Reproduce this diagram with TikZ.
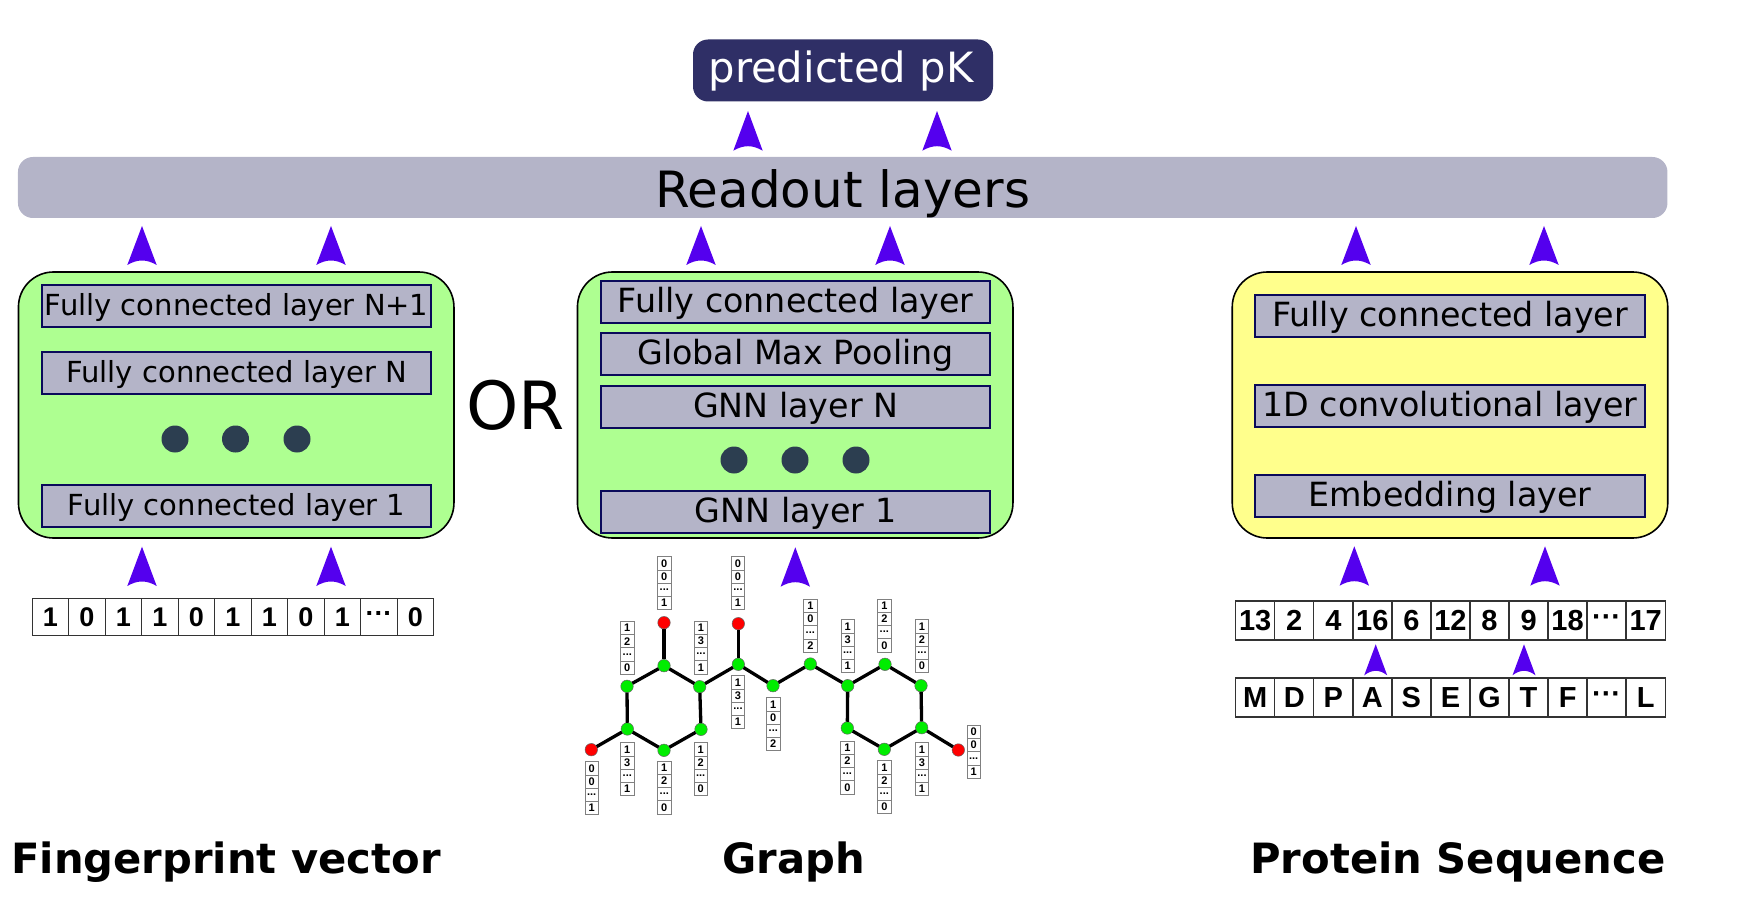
\documentclass[tikz,border=0pt]{standalone}
\usepackage{fontspec}
\setmainfont{DejaVu Sans}
\newfontfamily\cellfont{Liberation Sans}[BoldFont={Liberation Sans Bold}]
\usetikzlibrary{calc}
\definecolor{ArrowBlue}{RGB}{84,0,238}
\definecolor{BarGray}{RGB}{180,180,200}
\definecolor{BoxGreen}{RGB}{174,255,145}
\definecolor{BoxYellow}{RGB}{255,255,140}
\definecolor{DeepNavy}{RGB}{47,47,102}
\definecolor{LineNavy}{RGB}{10,10,90}
\definecolor{DotSlate}{RGB}{44,62,80}
\newcommand{\pxfont}[1]{\fontsize{#1}{#1}\selectfont}
\newcommand{\cdotsmark}{\raisebox{-4pt}{···}}
\tikzset{
  outerbox/.style = {draw = black, line width = 1.6pt, rounded corners = 35pt, minimum width = 435.5pt, minimum height = 266pt, outer sep = 0pt},
  layerbox/.style = {draw = LineNavy, fill = BarGray, line width = 2pt, minimum width = 389.5pt, minimum height = 42pt, inner sep = 0pt, outer sep = 0pt},
  smalltext/.style = {font = \pxfont{29}, text height = 26.5pt, text depth = 6.8pt},
  bigtext/.style = {font = \pxfont{33.3}, text height = 29.7pt, text depth = 7.8pt},
  waitdot/.style = {circle, fill = DotSlate, minimum size = 27pt, inner sep = 0pt},
  title/.style = {anchor = base, font = \pxfont{41.7}\bfseries},
  cell/.style = {draw = black!80, line width = 1.4pt, fill = white, inner sep = 0pt, outer sep = 0pt, font = \cellfont\bfseries\pxfont{29}},
  fpcell/.style = {cell, minimum width = 36.5pt, minimum height = 36.6pt, font = \cellfont\bfseries\pxfont{27}},
  seqcell/.style = {cell, minimum width = 39.05pt, minimum height = 39pt},
  bitcell/.style = {draw = black!50, line width = 0.7pt, fill = white, minimum width = 13.5pt, minimum height = 13.25pt, inner sep = 0pt, outer sep = 0pt, font = \cellfont\bfseries\pxfont{11}},
  atom/.style = {circle, draw = black!60, line width = 0.5pt, minimum size = 12.5pt, inner sep = 0pt, outer sep = 0pt},
  carbon/.style = {atom, fill = green!93!black},
  oxygen/.style = {atom, fill = red},
  bond/.style = {line width = 3.3pt},
  fatarrow/.style = {fill = ArrowBlue, to path = {(\tikztotarget) -- ($(\tikztostart)+(#1,0)$) .. controls ($(\tikztostart)+(0.3*#1,-6)$) and ($(\tikztostart)+(-0.3*#1,-6)$) .. ($(\tikztostart)+(-#1,0)$) -- cycle}},
  fatarrow/.default = 14.7
}
\newcommand{\bitstack}[6]{
  \node [bitcell] (#1-1) at (#2, #3+6.6) {#4};
  \node [bitcell] (#1-2) at (#2, #3+19.9) {#5};
  \node [bitcell] (#1-3) at (#2, #3+33.1) {...};
  \node [bitcell] (#1-4) at (#2, #3+46.4) {#6};
}
\begin{document}
\begin{tikzpicture}[x = 1pt, y = -1pt]
  \useasboundingbox (0, 0) rectangle (1746, 912);
  \node [fill = DeepNavy, text = white, rounded corners = 15pt, minimum width = 300pt, minimum height = 62pt, inner sep = 0pt, font = \pxfont{41.7}] (predicted) at (843, 70.5) {\hspace*{-4pt}predicted pK};
  \node [fill = BarGray, rounded corners = 15pt, minimum width = 1649.5pt, minimum height = 61pt, inner sep = 0pt, text height = 50.5pt, text depth = 10.4pt, font = \pxfont{50}] (readout) at (842.7, 187.5) {Readout layers};
  \node [outerbox, fill = BoxGreen] (fpbox) at (236.2, 405) {};
  \node [outerbox, fill = BoxGreen] (gnnbox) at (795.2, 405) {};
  \node [outerbox, fill = BoxYellow] (cnnbox) at (1450, 405) {};
  \node [layerbox, smalltext] (fcplus) at (236.7, 306) {Fully connected layer N+1};
  \node [layerbox, smalltext] (fcn) at (236.7, 372.5) {Fully connected layer N};
  \node [layerbox, smalltext] (fcone) at (236.7, 506) {Fully connected layer 1};
  \node [layerbox, bigtext] (fcgnn) at (795.7, 302) {Fully connected layer};
  \node [layerbox, bigtext] (pool) at (795.7, 354) {Global Max Pooling};
  \node [layerbox, bigtext] (gnnn) at (795.7, 407) {GNN layer N};
  \node [layerbox, bigtext] (gnnone) at (795.7, 512) {GNN layer 1};
  \node [layerbox, bigtext] (fccnn) at (1450, 316) {Fully connected layer};
  \node [layerbox, bigtext] (conv) at (1450, 405.5) {1D convolutional layer};
  \node [layerbox, bigtext] (embed) at (1450, 496) {Embedding layer};
  \foreach \n/\x in {a/175, b/235.5, c/297}
  \node [waitdot] (fpdot\n) at (\x, 439) {};
  \foreach \n/\x in {a/734, b/795, c/856}
  \node [waitdot] (gnndot\n) at (\x, 460) {};
  \node [font = \pxfont{66.5}] (orlabel) at (515.5, 405) {OR};
  \foreach \i/\t in {0/1, 1/0, 2/1, 3/1, 4/0, 5/1, 6/1, 7/0, 8/1, 9/\cdotsmark, 10/0}
  \node [fpcell] (fp\i) at (50.5+36.5*\i, 617) {\t};
  \foreach \i/\t in {0/13, 1/2, 2/4, 3/16, 4/6, 5/12, 6/8, 7/9, 8/18, 9/\cdotsmark, 10/17}
  \node [seqcell] (num\i) at (1255.2+39.05*\i, 620.3) {\t};
  \foreach \i/\t in {0/M, 1/D, 2/P, 3/A, 4/S, 5/E, 6/G, 7/T, 8/F, 9/\cdotsmark, 10/L}
  \node [seqcell] (res\i) at (1255.2+39.05*\i, 697.5) {\t};
  \foreach \n/\x/\y in {a/627/686.3, b/664/665.7, c/699.7/686.7, d/701/729.3, e/664/750.3, f/627.3/729, g/738.3/664.3, h/773/685.7, i/810.3/664, j/847.7/685.7, k/885/664.3, l/921/685.7, m/921.7/727.7, n/884.3/749.3, o/847.3/728}
  \node [carbon] (\n) at (\x, \y) {};
  \foreach \n/\x/\y in {p/664/622.7, q/591.3/749.7, r/738.3/623.7, s/958.3/750}
  \node [oxygen] (\n) at (\x, \y) {};
  \foreach \u/\v in {a/b, b/c, c/d, d/e, e/f, f/a, b/p, f/q, c/g, g/r, g/h, h/i, i/j, j/k, k/l, l/m, m/n, n/o, o/j, m/s}
  \draw [bond] (\u) -- (\v);
  \bitstack{sa}{664.3}{556.7}{0}{0}{1}
  \bitstack{sb}{738}{556.7}{0}{0}{1}
  \bitstack{sc}{627.3}{621.3}{1}{2}{0}
  \bitstack{sd}{701}{621}{1}{3}{1}
  \bitstack{se}{810.3}{599.3}{1}{0}{2}
  \bitstack{sf}{847.7}{619.7}{1}{3}{1}
  \bitstack{sg}{884.3}{599}{1}{2}{0}
  \bitstack{sh}{922}{619.7}{1}{2}{0}
  \bitstack{si}{738}{675.7}{1}{3}{1}
  \bitstack{sj}{773.3}{697.7}{1}{0}{2}
  \bitstack{sk}{973.7}{725.3}{0}{0}{1}
  \bitstack{sl}{591.7}{761.7}{0}{0}{1}
  \bitstack{sm}{627.3}{742.7}{1}{3}{1}
  \bitstack{sn}{664.3}{761}{1}{2}{0}
  \bitstack{so}{700.7}{742.7}{1}{2}{0}
  \bitstack{sp}{847.3}{741}{1}{2}{0}
  \bitstack{sq}{884.3}{760.7}{1}{2}{0}
  \bitstack{sr}{922}{742.7}{1}{3}{1}
  \foreach \n/\x/\ya/\yb in {ra/748/150.7/111, rb/937/150.7/111, ua/142/265/226, ub/331/265/226, uc/701/265/226, ud/890/265/226, ue/1356/265/226, uf/1544/265/226, va/142/586/546.7, vb/331/586/546.7, vc/795.3/586.7/547.3, vd/1354.3/585.7/546.3, ve/1545/585.7/546.3}
  {\coordinate (\n from) at (\x, \ya);
  \coordinate (\n to) at (\x, \yb);
  \path [fatarrow] (\n from) to (\n to);}
  \foreach \n/\x/\ya/\yb in {wa/1375.7/675.3/644.3, wb/1524/675.3/644.3}
  {\coordinate (\n from) at (\x, \ya);
  \coordinate (\n to) at (\x, \yb);
  \path [fatarrow = 11.5] (\n from) to (\n to);}
  \node [title] (fptitle) at (226, 873.7) {Fingerprint vector};
  \node [title] (graphtitle) at (793.5, 873.7) {Graph};
  \node [title] (seqtitle) at (1458, 873.7) {Protein Sequence};
\end{tikzpicture}
\end{document}
